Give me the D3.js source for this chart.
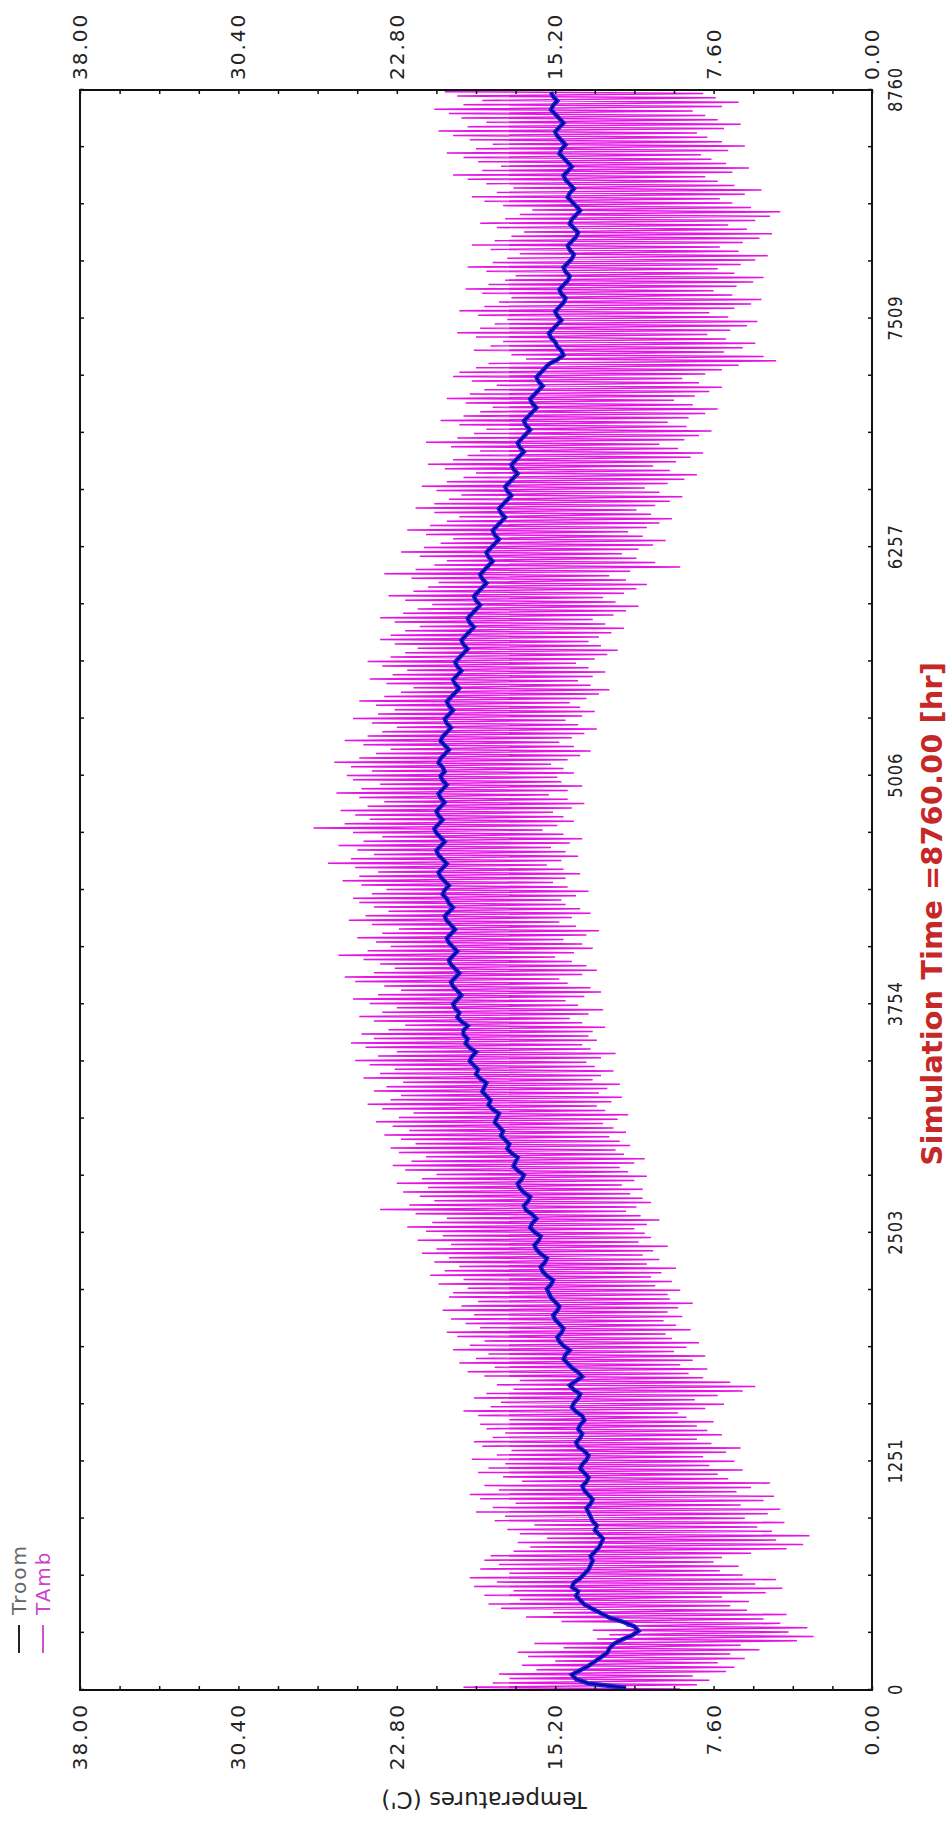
<!DOCTYPE html>
<html>
<head>
<meta charset="utf-8">
<script src="https://cdn.jsdelivr.net/npm/d3@7"></script>
<style>
  body { margin: 0; background: #fff; }
  text { font-family: "DejaVu Sans", Verdana, sans-serif; }
</style>
</head>
<body>
<div id="content"></div>
<script>
// tick labels
const timeTicks = [0, 1251, 2503, 3754, 5006, 6257, 7509, 8760];
const tempTicks = [0, 7.6, 15.2, 22.8, 30.4, 38];

// daily values (one entry per day, day 0..364)
const troom = [
  11.8,13.6,14.2,14.4,14.0,13.6,13.3,13.0,12.7,12.6,12.4,12.0,11.5,11.2,11.4,11.9,12.6,13.0,13.4,13.8,14.0,14.2,14.1,14.4,14.3,14.0,13.8,13.6,13.5,13.4,
  13.5,13.3,13.1,13.0,12.9,13.1,13.3,13.2,13.4,13.5,13.6,13.7,13.5,13.4,13.6,13.8,13.9,13.7,13.6,13.8,14.0,13.9,13.7,13.6,13.8,14.1,14.2,14.0,13.9,14.1,
  14.0,13.8,13.9,14.2,14.4,14.3,14.1,14.0,14.3,14.5,14.2,13.9,14.1,14.4,14.6,14.8,14.7,14.5,14.8,15.0,15.1,14.9,14.8,15.0,15.2,15.3,15.1,15.0,15.2,15.4,
  15.5,15.6,15.4,15.3,15.6,15.8,15.9,15.7,15.6,15.9,16.1,16.2,16.0,15.9,16.2,16.4,16.3,16.1,16.3,16.6,16.7,16.5,16.4,16.7,16.9,17.0,16.8,16.7,17.0,17.2,
  17.1,17.0,17.3,17.5,17.4,17.6,17.8,17.7,17.9,18.1,18.0,17.9,18.2,18.4,18.3,18.5,18.7,18.6,18.5,18.8,19.0,18.9,19.1,19.3,19.2,19.0,19.3,19.5,19.4,19.6,
  19.6,19.4,19.7,19.9,19.8,20.0,20.1,19.9,19.7,19.9,20.1,20.2,20.0,19.8,20.0,20.2,20.3,20.1,19.9,20.1,20.3,20.4,20.2,20.0,20.2,20.4,20.5,20.3,20.1,20.3,
  20.4,20.6,20.5,20.3,20.5,20.7,20.8,20.6,20.4,20.6,20.8,20.9,20.7,20.5,20.7,20.9,21.0,20.8,20.6,20.8,20.9,20.7,20.5,20.7,20.8,20.6,20.4,20.6,20.7,20.5,
  20.6,20.8,20.7,20.5,20.3,20.5,20.7,20.6,20.4,20.2,20.4,20.5,20.3,20.1,20.3,20.4,20.2,20.0,19.8,20.0,20.1,19.9,19.7,19.9,20.0,19.8,19.6,19.4,19.6,19.7,
  19.5,19.3,19.1,19.3,19.4,19.2,19.0,18.8,19.0,19.1,18.9,18.7,18.5,18.7,18.8,18.6,18.4,18.2,18.4,18.5,18.3,18.1,17.9,18.1,18.2,18.0,17.8,17.6,17.8,17.9,
  17.7,17.5,17.3,17.5,17.6,17.4,17.2,17.0,17.2,17.3,17.1,16.9,16.7,16.9,17.0,16.8,16.6,16.4,16.6,16.7,16.5,16.3,16.1,16.3,16.4,16.2,16.0,15.8,16.0,16.1,
  15.9,15.7,15.5,15.1,14.8,14.9,15.1,15.2,15.4,15.5,15.3,15.1,14.9,15.1,15.2,15.0,14.8,14.7,14.9,15.0,14.8,14.6,14.5,14.7,14.8,14.6,14.4,14.3,14.5,14.6,
  14.4,14.2,14.1,14.3,14.5,14.4,14.2,14.0,14.2,14.4,14.6,14.5,14.3,14.5,14.7,14.8,14.6,14.4,14.6,14.8,15.0,14.9,14.7,14.9,15.1,15.2,15.0,14.8,15.0,15.2,15.4,15.3,15.1,15.3,15.4
];
const ambMax = [
  19.6,18.2,17.4,17.9,16.1,16.8,15.2,16.5,17.0,14.8,16.2,13.2,12.6,13.4,11.8,14.9,16.6,15.3,17.8,18.4,16.9,18.6,17.2,19.1,18.0,19.3,17.4,18.8,17.9,18.6,
  18.3,17.2,16.4,17.0,15.6,16.9,17.5,16.2,18.1,17.6,19.0,18.2,17.1,18.8,19.3,17.9,18.6,16.8,17.7,18.9,18.4,17.6,19.2,18.0,17.3,18.7,19.1,18.2,17.6,18.5,
  18.8,17.4,18.9,19.6,18.3,17.8,19.1,18.5,17.2,18.0,16.9,18.6,19.4,18.1,19.8,19.0,18.4,20.1,19.3,18.6,19.9,20.4,18.8,19.5,20.2,19.1,20.6,19.7,18.9,20.3,
  20.1,19.4,20.8,19.6,21.2,20.5,19.8,21.0,20.3,21.6,20.9,20.2,21.8,20.6,21.4,22.3,21.1,20.4,21.9,23.6,22.2,21.0,21.7,22.5,21.3,22.8,21.6,20.9,22.4,23.0,
  22.1,21.4,22.7,23.1,21.9,22.6,23.4,22.2,23.0,23.8,22.7,22.0,23.5,24.2,23.1,22.6,23.9,23.3,22.5,24.4,23.6,22.9,24.1,24.8,23.7,22.8,24.3,25.0,23.9,24.5,
  23.2,22.4,23.9,24.6,23.5,22.8,24.1,24.9,23.7,22.6,23.4,24.8,25.3,23.9,22.9,23.6,24.4,25.6,24.2,23.1,23.8,24.7,23.5,22.7,24.0,25.1,24.3,23.2,23.9,24.6,
  24.9,24.0,23.3,24.5,25.4,24.6,23.7,24.8,26.1,25.0,23.9,24.7,25.6,24.4,23.5,24.9,26.8,25.3,24.1,24.8,25.5,24.2,23.4,24.6,25.7,24.5,23.6,24.9,25.2,24.0,
  25.0,25.8,24.6,23.8,23.1,24.4,25.3,24.2,23.5,22.8,24.0,24.9,23.7,22.9,23.8,24.6,23.4,22.6,22.0,23.3,24.1,23.0,22.3,23.5,24.2,23.1,22.4,21.8,22.9,23.6,
  23.1,22.4,21.7,22.9,23.6,22.5,21.8,21.1,22.4,23.2,22.0,21.3,20.8,22.1,23.4,21.9,21.0,20.4,21.7,22.6,21.5,20.7,20.1,21.4,22.3,21.2,20.4,19.8,21.0,21.9,
  21.0,20.3,19.7,20.9,21.6,20.4,19.6,19.0,20.5,21.3,20.1,19.4,18.8,20.2,21.4,19.9,19.1,18.5,19.8,20.7,19.6,18.8,18.2,19.5,20.4,19.3,18.6,18.0,19.2,20.1,
  19.8,19.0,18.4,16.6,17.3,19.1,18.3,17.7,19.0,19.9,18.8,18.1,17.5,18.9,19.8,18.6,17.9,17.3,18.7,19.5,18.4,17.6,17.1,18.5,19.4,18.2,17.5,16.9,18.3,19.2,
  18.1,17.3,16.7,18.0,18.8,17.6,16.9,16.3,17.7,18.6,19.2,18.0,17.2,18.5,19.4,20.1,18.7,17.8,18.9,19.6,20.4,19.0,18.2,19.3,20.1,20.8,19.4,18.5,19.7,20.3,21.0,19.6,18.7,19.9,20.5
];
const ambMin = [
  9.2,8.4,7.8,8.6,7.0,6.6,7.4,6.1,6.8,5.4,6.3,3.6,2.8,4.0,3.1,4.4,5.2,4.1,6.0,6.8,5.9,7.2,5.1,4.3,5.6,4.6,6.2,7.3,6.4,7.6,
  7.2,5.8,4.1,3.3,4.6,3.0,4.8,5.5,4.2,6.1,5.0,4.4,6.3,5.2,4.7,6.5,5.8,4.9,6.9,7.4,6.2,7.8,6.6,8.1,7.0,6.3,7.7,8.4,7.2,7.9,
  8.4,7.6,8.9,9.3,8.0,7.1,8.5,7.4,6.2,5.6,6.8,8.1,8.8,7.9,9.2,8.6,8.0,9.5,8.9,8.3,9.6,9.9,8.7,9.4,10.0,9.1,9.8,9.3,8.6,9.7,
  9.8,9.2,10.4,9.6,10.6,10.1,9.4,10.8,10.2,11.0,10.5,9.8,11.2,10.6,10.9,11.4,10.8,10.2,11.1,11.8,11.3,10.6,11.0,11.6,11.0,12.0,11.4,10.8,11.7,12.1,
  11.4,10.9,11.9,12.3,11.6,12.1,12.6,11.8,12.4,12.9,12.2,11.7,12.8,13.2,12.5,12.0,13.1,12.7,12.1,13.4,13.0,12.4,13.3,13.7,13.0,12.3,13.5,13.9,13.2,13.6,
  13.4,12.8,13.9,14.5,13.6,12.9,14.1,14.7,13.8,13.0,13.5,14.6,15.0,13.9,13.2,13.7,14.4,15.2,14.3,13.4,13.9,14.8,13.7,13.1,14.2,15.0,14.4,13.5,14.0,14.7,
  14.9,14.2,13.6,14.6,15.3,14.7,14.0,14.8,15.6,14.9,14.1,14.7,15.4,14.5,13.9,14.8,15.8,15.1,14.3,14.8,15.3,14.4,13.8,14.6,15.5,14.6,13.9,14.9,15.1,14.3,
  14.8,15.4,14.6,14.0,13.5,14.3,15.0,14.4,13.8,13.2,14.1,14.7,13.9,13.3,14.0,14.5,13.7,13.1,12.6,13.5,14.1,13.4,12.8,13.6,14.2,13.3,12.7,12.2,13.0,13.6,
  13.1,12.5,11.9,12.8,13.4,12.4,11.8,11.2,12.3,12.9,11.9,11.3,10.8,11.8,12.6,11.6,9.2,10.4,11.3,12.0,11.2,10.5,9.9,11.0,11.7,10.8,10.2,9.6,10.6,11.3,
  10.4,9.7,9.1,10.2,10.9,9.8,9.0,8.4,9.7,10.5,9.4,8.7,8.1,9.3,10.2,9.0,8.3,7.7,8.9,9.8,8.8,8.0,7.4,8.6,9.5,8.5,7.8,7.2,8.3,9.1,
  8.0,7.2,6.4,4.6,5.2,7.1,6.2,5.6,7.0,7.9,6.8,6.0,5.5,6.9,7.8,6.6,5.8,5.3,6.7,7.6,6.5,5.7,5.2,6.6,7.4,6.3,5.6,5.0,6.4,7.3,
  6.2,5.4,4.8,6.0,6.9,5.6,4.9,4.4,5.8,6.7,7.3,6.1,5.3,6.6,7.4,8.0,6.7,5.9,7.0,7.7,8.2,6.9,6.1,7.2,7.9,8.4,7.1,6.3,7.4,8.0,8.6,7.2,6.4,7.5,8.1
];

// chart is laid out in its own frame and turned a quarter turn
const W = 1821, H = 948;
const plot = { left: 131, right: 1731, top: 80, bottom: 872 };

const x = d3.scaleLinear().domain([0, 8760]).range([plot.left, plot.right]);
const y = d3.scaleLinear().domain([0, 38]).range([plot.bottom, plot.top]);

const svg = d3.select('#content').append('svg')
  .attr('width', 948).attr('height', 1821);

const g = svg.append('g')
  .attr('transform', `translate(0,${W}) rotate(-90)`);

g.append('clipPath').attr('id', 'clip')
  .append('rect')
  .attr('x', plot.left).attr('y', plot.top)
  .attr('width', plot.right - plot.left).attr('height', plot.bottom - plot.top);

// TAmb: daily swing, low in the early morning, high in the afternoon
const ambPts = [];
ambMax.forEach((v, d) => {
  ambPts.push([d * 24 + 5, ambMin[d]]);
  ambPts.push([d * 24 + 15, v]);
});
const roomPts = troom.map((v, d) => [d * 24 + 12, v]);

const line = d3.line().x(d => x(d[0])).y(d => y(d[1]));

const dataG = g.append('g').attr('clip-path', 'url(#clip)');
dataG.append('path').datum(ambPts)
  .attr('d', line).attr('fill', 'none')
  .attr('stroke', '#e414e4').attr('stroke-width', 1.5);
dataG.append('path').datum(roomPts)
  .attr('d', line).attr('fill', 'none')
  .attr('stroke', '#2020e0').attr('stroke-width', 4.5);
dataG.append('path').datum(roomPts)
  .attr('d', line).attr('fill', 'none')
  .attr('stroke', '#00007a').attr('stroke-width', 1.3);

// frame
g.append('rect')
  .attr('x', plot.left).attr('y', plot.top)
  .attr('width', plot.right - plot.left).attr('height', plot.bottom - plot.top)
  .attr('fill', 'none').attr('stroke', '#111').attr('stroke-width', 2);

// minor ticks, inward on every side
const minorT = d3.range(0, 29).map(i => i * 8760 / 28);
const minorY = d3.range(0, 21).map(i => i * 1.9);
function minor(axis, tr) {
  const a = g.append('g').attr('transform', tr).call(axis.tickSize(-4).tickFormat(''));
  a.select('.domain').remove();
  a.selectAll('line').attr('stroke', '#111').attr('stroke-width', 1.5);
}
minor(d3.axisBottom(x).tickValues(minorT), `translate(0,${plot.bottom})`);
minor(d3.axisTop(x).tickValues(minorT), `translate(0,${plot.top})`);
minor(d3.axisLeft(y).tickValues(minorY), `translate(${plot.left},0)`);
minor(d3.axisRight(y).tickValues(minorY), `translate(${plot.right},0)`);

// labels
const xAxis = g.append('g').attr('transform', `translate(0,${plot.bottom})`)
  .call(d3.axisBottom(x).tickValues(timeTicks).tickSize(0).tickPadding(16).tickFormat(d3.format('d')));
xAxis.select('.domain').remove();
xAxis.selectAll('text').attr('font-size', 20).attr('fill', '#222')
  .attr('font-family', '"Liberation Sans", Arial, sans-serif')
  .attr('transform', 'scale(0.82,1)').style('letter-spacing', '1px');

const yFmt = d3.format('.2f');
const yl = g.append('g').attr('transform', `translate(${plot.left},0)`)
  .call(d3.axisLeft(y).tickValues(tempTicks).tickSize(0).tickPadding(13).tickFormat(yFmt));
const yr = g.append('g').attr('transform', `translate(${plot.right},0)`)
  .call(d3.axisRight(y).tickValues(tempTicks).tickSize(0).tickPadding(10).tickFormat(yFmt));
[yl, yr].forEach(a => {
  a.select('.domain').remove();
  a.selectAll('text').attr('font-size', 20).attr('fill', '#222')
    .attr('font-family', '"DejaVu Sans", Verdana, sans-serif')
    .style('letter-spacing', '2px');
});

// titles
g.append('text')
  .attr('x', x(4250)).attr('y', 942)
  .attr('text-anchor', 'middle')
  .attr('font-size', 29).attr('font-weight', 'bold').attr('fill', '#c62828')
  .text('Simulation Time =8760.00 [hr]');

g.append('text')
  .attr('transform', 'translate(29,484) rotate(-90)')
  .attr('text-anchor', 'middle')
  .attr('font-size', 23).attr('fill', '#222')
  .text("Temperatures (C')");

// legend
const legend = [
  { name: 'Troom', line: '#222', text: '#666' },
  { name: 'TAmb', line: '#cc55cc', text: '#cc44cc' }
];
const lg = g.selectAll('.leg').data(legend).enter().append('g')
  .attr('transform', (d, i) => `translate(168,${19 + i * 24})`);
lg.append('line').attr('x1', 0).attr('x2', 28)
  .attr('stroke', d => d.line).attr('stroke-width', 2);
lg.append('text').attr('x', 38).attr('y', 7)
  .attr('font-size', 20).style('letter-spacing', '2px')
  .attr('fill', d => d.text).text(d => d.name);
</script>
</body>
</html>
